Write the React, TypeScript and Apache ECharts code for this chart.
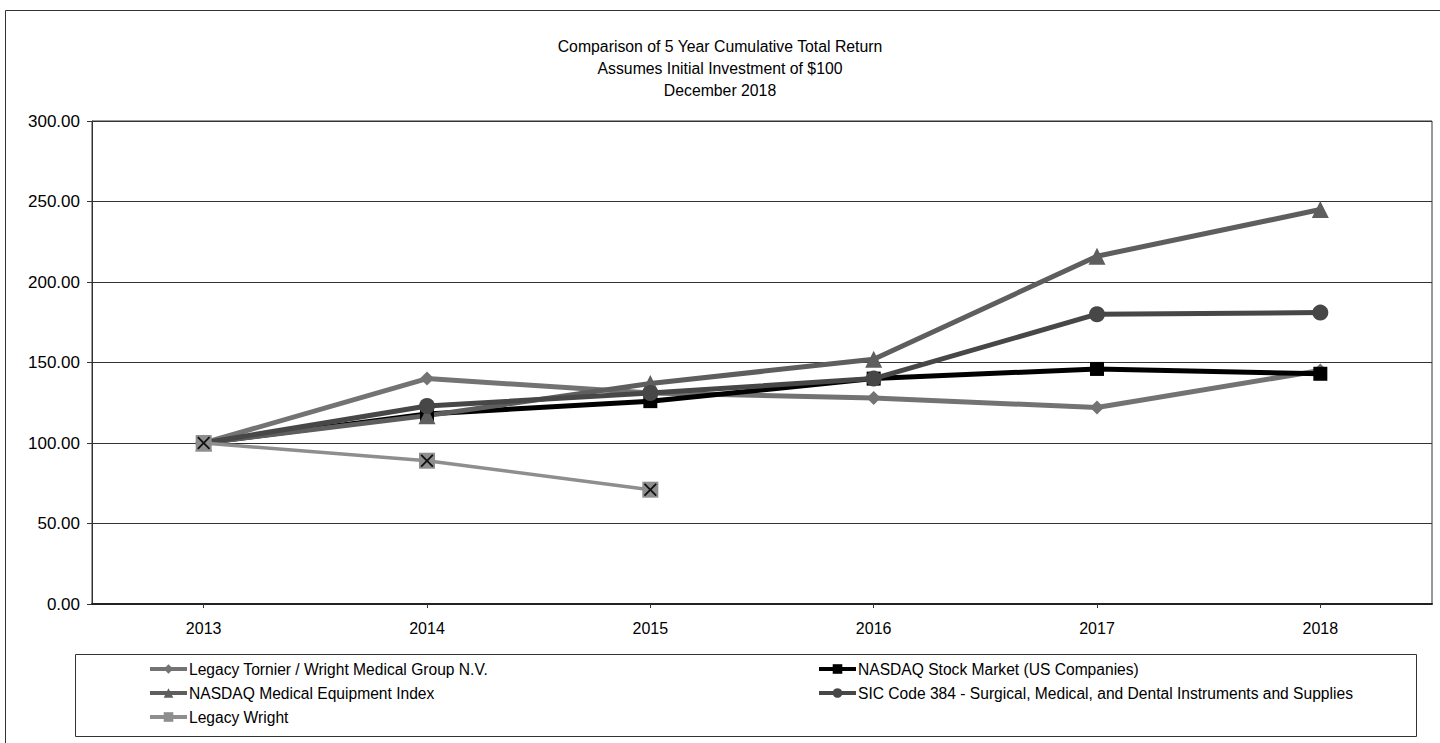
import React, { useEffect, useRef } from "react";
import * as echarts from "echarts";

const years = ["2013", "2014", "2015", "2016", "2017", "2018"];
const tornier = [100, 140, 131, 128, 122, 145];
const nasdaqStock = [100, 118, 126, 140, 146, 143];
const nasdaqMed = [100, 117, 137, 152, 216, 245];
const sic384 = [100, 123, 131, 140, 180, 181];
const legacyWright = [100, 89, 71, null, null, null];

const titleLines = [
  "Comparison of 5 Year Cumulative Total Return",
  "Assumes Initial Investment of $100",
  "December 2018",
];

const FONT = "'Liberation Sans', Arial, sans-serif";

export default function App() {
  const ref = useRef<HTMLDivElement>(null);
  useEffect(() => {
    if (!ref.current) return;
    const chart = echarts.init(ref.current, undefined, { renderer: "svg" });
    const lineSeries = (
      name: string,
      data: (number | null)[],
      color: string,
      symbol: string,
      symbolSize: number,
      width: number,
      z: number
    ) => ({
      name,
      type: "line",
      data,
      symbol,
      symbolSize,
      showAllSymbol: true,
      itemStyle: { color },
      lineStyle: { color, width },
      z,
    });
    const legendCommon = {
      orient: "vertical",
      top: 656,
      itemWidth: 37,
      itemHeight: 12,
      itemGap: 8,
      lineStyle: { width: 4 },
      textStyle: { fontSize: 15.6, color: "#000", fontFamily: FONT, padding: [0, 0, 0, -3] },
    };
    chart.setOption({
      animation: false,
      textStyle: { fontFamily: FONT, color: "#000" },
      title: {
        text: titleLines.join("\n"),
        left: "center",
        top: 30,
        textStyle: {
          fontFamily: FONT,
          fontSize: 15.8,
          fontWeight: "normal",
          color: "#000",
          lineHeight: 22,
        },
      },
      grid: {
        left: 92,
        right: 8,
        top: 121,
        bottom: 139,
        show: true,
        borderColor: "#333",
        borderWidth: 1,
      },
      xAxis: {
        type: "category",
        data: years,
        boundaryGap: true,
        axisLine: { lineStyle: { color: "#222", width: 2 } },
        axisTick: { show: true, alignWithLabel: true, length: 4, lineStyle: { color: "#333" } },
        axisLabel: { fontSize: 16, color: "#000", margin: 16, fontFamily: FONT },
      },
      yAxis: {
        type: "value",
        min: 0,
        max: 300,
        interval: 50,
        axisLine: { show: true, lineStyle: { color: "#333", width: 1 } },
        axisTick: { show: true, length: 5, lineStyle: { color: "#333" } },
        axisLabel: {
          fontSize: 17,
          color: "#000",
          margin: 12,
          fontFamily: FONT,
          formatter: (v: number) => v.toFixed(2),
        },
        splitLine: { show: true, lineStyle: { color: "#333", width: 1 } },
      },
      legend: [
        {
          ...legendCommon,
          data: [
            "Legacy Tornier / Wright Medical Group N.V.",
            "NASDAQ Medical Equipment Index",
            "Legacy Wright",
          ],
          left: 143,
        },
        {
          ...legendCommon,
          data: [
            "NASDAQ Stock Market (US Companies)",
            "SIC Code 384 - Surgical, Medical, and Dental Instruments and Supplies",
          ],
          left: 812,
        },
      ],
      graphic: [
        {
          type: "rect",
          shape: { x: 5.5, y: 10.5, width: 1460, height: 760 },
          style: { fill: "none", stroke: "#333", lineWidth: 1 },
          silent: true,
        },
        {
          type: "rect",
          shape: { x: 75.5, y: 654.5, width: 1341, height: 82 },
          style: { fill: "none", stroke: "#333", lineWidth: 1 },
          silent: true,
        },
      ],
      series: [
        lineSeries("Legacy Tornier / Wright Medical Group N.V.", tornier, "#737373", "diamond", 14, 5, 2),
        lineSeries("NASDAQ Stock Market (US Companies)", nasdaqStock, "#000000", "rect", 14, 5, 3),
        lineSeries("NASDAQ Medical Equipment Index", nasdaqMed, "#5e5e5e", "triangle", 17, 5, 3),
        lineSeries(
          "SIC Code 384 - Surgical, Medical, and Dental Instruments and Supplies",
          sic384,
          "#474747",
          "circle",
          16,
          5,
          4
        ),
        lineSeries("Legacy Wright", legacyWright, "#8e8e8e", "rect", 16, 3.5, 5),
        {
          name: "Legacy Wright X",
          type: "line",
          data: legacyWright,
          symbol: "path://M0,1L1,0L5,4L9,0L10,1L6,5L10,9L9,10L5,6L1,10L0,9L4,5Z",
          symbolSize: 13,
          showAllSymbol: true,
          itemStyle: { color: "#111" },
          lineStyle: { opacity: 0, width: 0 },
          z: 6,
        },
      ],
    });
    return () => chart.dispose();
  }, []);
  return (
    <div
      ref={ref}
      style={{ position: "fixed", left: 0, top: 0, width: 1440, height: 743, background: "#fff" }}
    />
  );
}
